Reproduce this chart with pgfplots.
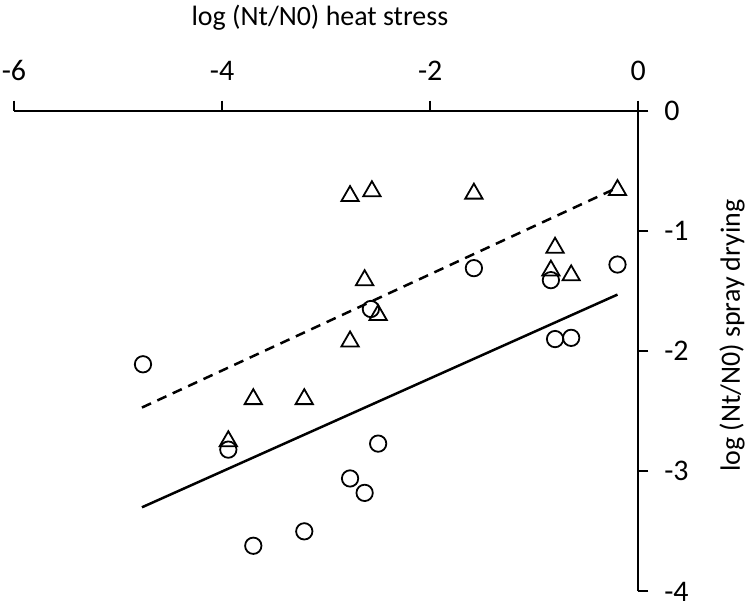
\documentclass[border=0pt]{standalone}
\usepackage{fontspec}
\setmainfont{Carlito}
\usepackage{pgfplots}
\pgfplotsset{compat=1.18}

\begin{document}
\begin{tikzpicture}
\begin{axis}[
    scale only axis,
    width=313pt, height=241pt,
    xmin=-6, xmax=0, ymin=-4, ymax=0,
    axis x line=top, axis y line=right,
    x axis line style={-, line width=1pt},
    y axis line style={-, line width=1pt},
    xtick={-6,-4,-2,0}, xticklabels={-6,-4,-2,0},
    ytick={0,-1,-2,-3,-4}, yticklabels={0,-1,-2,-3,-4},
    tick align=outside, major tick length=5pt,
    tick style={black, line width=1pt},
    xticklabel shift=6.5pt, yticklabel shift=4.5pt,
    tick label style={font=\fontsize{15}{18}\selectfont},
    label style={font=\fontsize{14}{17}\selectfont},
    xlabel={log (Nt/N0) heat stress},
    ylabel={log (Nt/N0) spray drying},
    xlabel style={at={(axis description cs:0.49,1.193)}, anchor=center},
    ylabel style={at={(axis description cs:1.150,0.532)}, anchor=center},
    clip=false,
]
\coordinate (ll) at (rel axis cs:0,0);
\coordinate (ur) at (rel axis cs:1,1);
% triangles
\addplot[only marks, mark=triangle, mark size=5pt, mark options={line width=0.9pt, black, fill=none}]
  coordinates {(-2.77,-0.71) (-2.56,-0.67) (-1.58,-0.69) (-0.20,-0.66) (-0.80,-1.14)
               (-0.84,-1.33) (-0.645,-1.37) (-2.63,-1.41) (-2.50,-1.70) (-2.77,-1.92)
               (-3.70,-2.40) (-3.21,-2.40) (-3.94,-2.75)};
% circles
\addplot[only marks, mark=o, mark size=4.1pt, mark options={line width=0.9pt, black}]
  coordinates {(-2.57,-1.65) (-4.76,-2.11) (-3.94,-2.82) (-2.50,-2.77) (-1.58,-1.31)
               (-0.84,-1.41) (-0.20,-1.28) (-0.80,-1.90) (-0.645,-1.89) (-2.77,-3.06)
               (-2.63,-3.18) (-3.21,-3.50) (-3.70,-3.62)};
% fitted lines
\addplot[black, line width=1.25pt, dash pattern=on 5pt off 3.5pt] coordinates {(-4.77,-2.47) (-0.20,-0.64)};
\addplot[black, line width=1.25pt] coordinates {(-4.77,-3.30) (-0.20,-1.53)};
\end{axis}
\pgfresetboundingbox
\path[use as bounding box] ([xshift=-7pt,yshift=-9pt]ll) rectangle ([xshift=56pt,yshift=55.5pt]ur);
\end{tikzpicture}
\end{document}
